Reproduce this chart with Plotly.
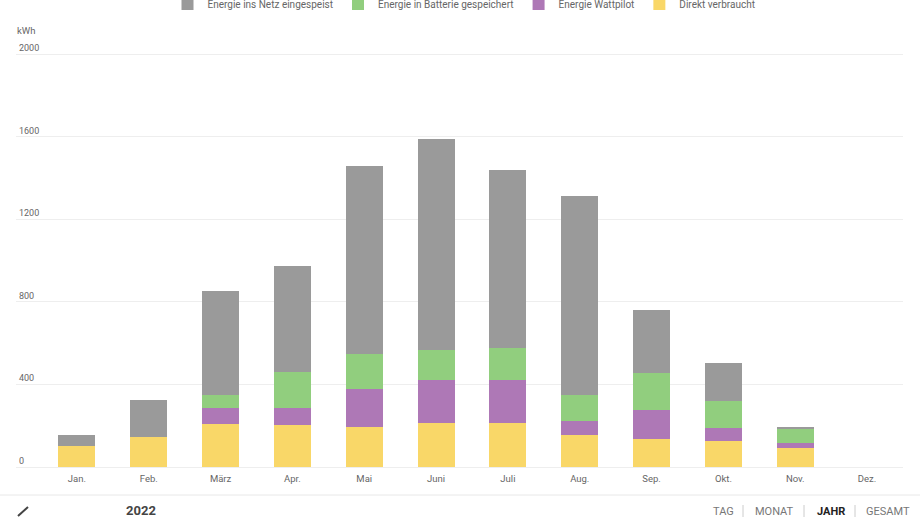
import plotly.graph_objects as go

months = ["Jan.", "Feb.", "März", "Apr.", "Mai", "Juni", "Juli", "Aug.", "Sep.", "Okt.", "Nov.", "Dez."]
direkt = [100, 143, 210, 204, 194, 215, 215, 157, 138, 125, 92, 0]
wattpilot = [0, 0, 76, 84, 184, 204, 205, 65, 140, 66, 26, 0]
batterie = [0, 0, 65, 171, 168, 150, 154, 129, 175, 127, 70, 0]
netz = [54, 180, 501, 514, 912, 1020, 864, 963, 307, 188, 6, 0]
y_ticks = [0, 400, 800, 1200, 1600, 2000]

W, H = 920, 517
L, R, T, B = 16, 17, 52, 50
pw, ph = W - L - R, H - T - B


def px(x):
    return (x - L) / pw


def py(y):
    return (H - B - y) / ph


series = [
    ("Direkt verbraucht", direkt, "#F9D768"),
    ("Energie Wattpilot", wattpilot, "#AE78B6"),
    ("Energie in Batterie gespeichert", batterie, "#91CE7E"),
    ("Energie ins Netz eingespeist", netz, "#9A9A9A"),
]

fig = go.Figure()
for name, vals, col in series:
    fig.add_trace(go.Bar(x=months, y=vals, name=name, marker=dict(color=col, line=dict(width=0))))

# left extension so gridlines start at the chart's left edge
ext = 25 / ((pw - 25) / 12.0)

fig.update_layout(
    width=W, height=H,
    margin=dict(l=L, r=R, t=T, b=B, autoexpand=False),
    barmode="stack",
    bargap=0.485,
    plot_bgcolor="white",
    paper_bgcolor="white",
    font=dict(family="Roboto", size=10, color="#666666"),
    showlegend=True,
    legend=dict(
        orientation="h", traceorder="reversed",
        x=px(464), xanchor="center", xref="paper",
        y=py(4), yanchor="middle", yref="paper",
        font=dict(size=10, color="#666666"),
        itemwidth=30, itemclick=False,
    ),
    xaxis=dict(
        type="category",
        range=[-0.5 - ext, 11.5],
        showgrid=False, zeroline=False, showline=False,
        ticks="", tickfont=dict(size=9.5, color="#666666"),
        ticklabelstandoff=4,
        fixedrange=True,
    ),
    yaxis=dict(
        range=[0, 2010],
        tickvals=y_ticks,
        ticklabelposition="inside top",
        ticklabeloverflow="allow",
        showgrid=True, gridcolor="#EEEEEE", gridwidth=1,
        zeroline=True, zerolinecolor="#EEEEEE", zerolinewidth=1,
        showline=False, ticks="",
        tickfont=dict(size=9, color="#666666"),
        fixedrange=True,
    ),
)

# separator line under the chart
fig.add_shape(type="line", xref="paper", yref="paper",
              x0=px(0), x1=px(W), y0=py(495), y1=py(495),
              line=dict(color="#E8E8E8", width=1))
# pencil icon stroke
fig.add_shape(type="line", xref="paper", yref="paper",
              x0=px(18), x1=px(28), y0=py(516), y1=py(507),
              line=dict(color="#444444", width=2))

ann = [
    dict(text="kWh", x=px(15), y=py(31), xanchor="left", font=dict(size=9.5, color="#666666")),
    dict(text="<b>2022</b>", x=px(124), y=py(510), xanchor="left", font=dict(size=13, color="#444444")),
    dict(text="TAG", x=px(711), y=py(511), xanchor="left", font=dict(size=11, color="#777777")),
    dict(text="MONAT", x=px(753), y=py(511), xanchor="left", font=dict(size=11, color="#777777")),
    dict(text="<b>JAHR</b>", x=px(815), y=py(511), xanchor="left", font=dict(size=11, color="#222222")),
    dict(text="GESAMT", x=px(864), y=py(511), xanchor="left", font=dict(size=11, color="#777777")),
]
for a in ann:
    fig.add_annotation(xref="paper", yref="paper", yanchor="middle", showarrow=False, **a)

for sx in [743, 804, 855]:
    fig.add_shape(type="line", xref="paper", yref="paper",
                  x0=px(sx), x1=px(sx), y0=py(505), y1=py(517),
                  line=dict(color="#CCCCCC", width=1))

fig.write_html("out.html", config={"displayModeBar": False},
               post_script="document.body.style.margin='0';document.body.style.overflow='hidden';")
